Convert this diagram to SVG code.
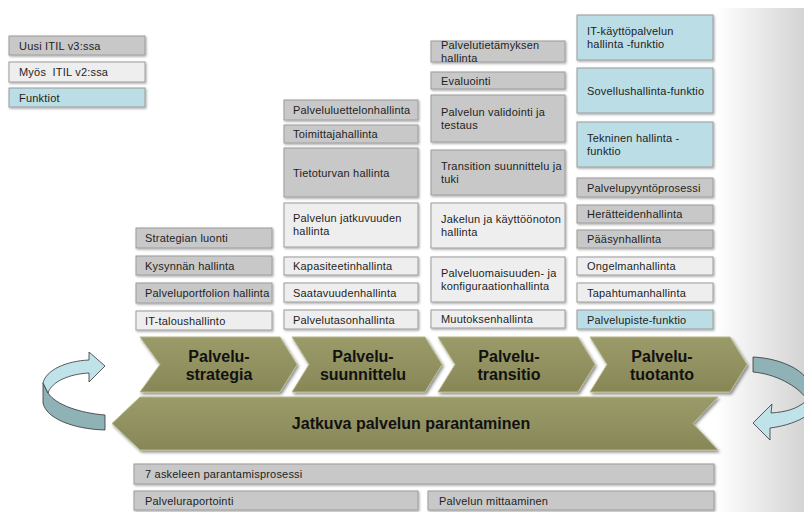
<svg xmlns="http://www.w3.org/2000/svg" width="804" height="512" viewBox="0 0 804 512">
  <defs>
    <linearGradient id="sideFade" x1="0" y1="0" x2="1" y2="0">
      <stop offset="0" stop-color="#ffffff"/>
      <stop offset="1" stop-color="#d4d4d4"/>
    </linearGradient>
    <linearGradient id="olive" x1="0" y1="0" x2="0" y2="1">
      <stop offset="0" stop-color="#9b9a69"/>
      <stop offset="0.5" stop-color="#929161"/>
      <stop offset="1" stop-color="#878656"/>
    </linearGradient>
    <filter id="boxShadow" x="-10%" y="-30%" width="120%" height="160%">
      <feDropShadow dx="1" dy="1.2" stdDeviation="1.2" flood-color="#000" flood-opacity="0.35"/>
    </filter>
    <filter id="chevShadow" x="-10%" y="-20%" width="120%" height="150%">
      <feDropShadow dx="1.5" dy="2" stdDeviation="1.5" flood-color="#000" flood-opacity="0.45"/>
    </filter>
  </defs>
  <style>
    .box { stroke: #9c9c9c; stroke-width: 1; filter: url(#boxShadow); }
    .g { fill: #c8c8c8; }
    .l { fill: #eeeeee; }
    .b { fill: #badde6; }
    .t { font-family: "Liberation Sans", Arial, sans-serif; font-size: 11px; letter-spacing: 0.2px; fill: #1e1e1e; }
    .chev { fill: url(#olive); stroke: #b9b98c; stroke-width: 1; filter: url(#chevShadow); }
    .ct { font-family: "Liberation Sans", Arial, sans-serif; font-size: 16px; font-weight: bold; fill: #111111; text-anchor: middle; }
    .hi { fill: #c0e3ea; stroke: #333333; stroke-width: 0.8; stroke-linejoin: round; }
    .lo { fill: #8fb2b7; stroke: #333333; stroke-width: 0.8; stroke-linejoin: round; }
  </style>

  <rect x="0" y="0" width="804" height="512" fill="#ffffff"/>
  <rect x="716" y="8" width="88" height="504" fill="url(#sideFade)"/>

  <!-- legend -->
  <g id="legend-v3"><rect class="box g" x="9" y="36" width="136" height="19"/><text class="t" x="19" y="49.5">Uusi ITIL v3:ssa</text></g>
  <g id="legend-v2"><rect class="box l" x="9" y="62" width="136" height="20"/><text class="t" x="19" y="76" xml:space="preserve">Myös  ITIL v2:ssa</text></g>
  <g id="legend-func"><rect class="box b" x="9" y="88" width="136" height="19"/><text class="t" x="19" y="101.5">Funktiot</text></g>

  <!-- strategy column -->
  <g id="strategian-luonti"><rect class="box g" x="136" y="228" width="136" height="20"/><text class="t" x="145" y="242">Strategian luonti</text></g>
  <g id="kysynnan-hallinta"><rect class="box g" x="136" y="256" width="136" height="19"/><text class="t" x="145" y="269.5">Kysynnän hallinta</text></g>
  <g id="palveluportfolion-hallinta"><rect class="box g" x="136" y="283" width="136" height="20"/><text class="t" x="145" y="297">Palveluportfolion hallinta</text></g>
  <g id="it-taloushallinto"><rect class="box l" x="136" y="311" width="136" height="19"/><text class="t" x="145" y="324.5">IT-taloushallinto</text></g>

  <!-- design column -->
  <g id="palveluluettelonhallinta"><rect class="box g" x="284" y="100" width="134" height="20"/><text class="t" x="293" y="114">Palveluluettelonhallinta</text></g>
  <g id="toimittajahallinta"><rect class="box g" x="284" y="125" width="134" height="18"/><text class="t" x="293" y="138">Toimittajahallinta</text></g>
  <g id="tietoturvan-hallinta"><rect class="box g" x="284" y="148" width="134" height="49"/><text class="t" x="293" y="176.5">Tietoturvan hallinta</text></g>
  <g id="palvelun-jatkuvuuden-hallinta"><rect class="box l" x="284" y="203" width="134" height="44"/><text class="t" x="293" y="222">Palvelun jatkuvuuden</text><text class="t" x="293" y="235">hallinta</text></g>
  <g id="kapasiteetinhallinta"><rect class="box l" x="284" y="257" width="134" height="18"/><text class="t" x="293" y="270">Kapasiteetinhallinta</text></g>
  <g id="saatavuudenhallinta"><rect class="box l" x="284" y="283" width="134" height="19"/><text class="t" x="293" y="296.5">Saatavuudenhallinta</text></g>
  <g id="palvelutasonhallinta"><rect class="box l" x="284" y="310" width="134" height="19"/><text class="t" x="293" y="323.5">Palvelutasonhallinta</text></g>

  <!-- transition column -->
  <g id="palvelutietamyksen-hallinta"><rect class="box g" x="431" y="41" width="134" height="21"/><text class="t" x="441" y="48.5">Palvelutietämyksen</text><text class="t" x="441" y="61.5">hallinta</text></g>
  <g id="evaluointi"><rect class="box g" x="431" y="72" width="134" height="17"/><text class="t" x="441" y="84.5">Evaluointi</text></g>
  <g id="palvelun-validointi"><rect class="box g" x="431" y="95" width="134" height="47"/><text class="t" x="441" y="115.5">Palvelun validointi ja</text><text class="t" x="441" y="128.5">testaus</text></g>
  <g id="transition-suunnittelu"><rect class="box g" x="431" y="150" width="134" height="45"/><text class="t" x="441" y="169.5">Transition suunnittelu ja</text><text class="t" x="441" y="182.5">tuki</text></g>
  <g id="jakelun-hallinta"><rect class="box l" x="431" y="203" width="134" height="45"/><text class="t" x="441" y="222.5">Jakelun ja käyttöönoton</text><text class="t" x="441" y="235.5">hallinta</text></g>
  <g id="palveluomaisuuden-hallinta"><rect class="box l" x="431" y="257" width="134" height="45"/><text class="t" x="441" y="276.5">Palveluomaisuuden- ja</text><text class="t" x="441" y="289.5">konfiguraationhallinta</text></g>
  <g id="muutoksenhallinta"><rect class="box l" x="431" y="310" width="134" height="18"/><text class="t" x="441" y="323">Muutoksenhallinta</text></g>

  <!-- operation column -->
  <g id="it-kayttopalvelun-hallinta"><rect class="box b" x="577" y="15" width="136" height="45"/><text class="t" x="587" y="34.5">IT-käyttöpalvelun</text><text class="t" x="587" y="47.5">hallinta -funktio</text></g>
  <g id="sovellushallinta"><rect class="box b" x="577" y="68" width="136" height="45"/><text class="t" x="587" y="94.5">Sovellushallinta-funktio</text></g>
  <g id="tekninen-hallinta"><rect class="box b" x="577" y="122" width="136" height="45"/><text class="t" x="587" y="141.5">Tekninen hallinta -</text><text class="t" x="587" y="154.5">funktio</text></g>
  <g id="palvelupyyntoprosessi"><rect class="box g" x="577" y="178" width="136" height="19"/><text class="t" x="587" y="191.5">Palvelupyyntöprosessi</text></g>
  <g id="heratteidenhallinta"><rect class="box g" x="577" y="205" width="136" height="18"/><text class="t" x="587" y="218">Herätteidenhallinta</text></g>
  <g id="paasynhallinta"><rect class="box g" x="577" y="230" width="136" height="18"/><text class="t" x="587" y="243">Pääsynhallinta</text></g>
  <g id="ongelmanhallinta"><rect class="box l" x="577" y="257" width="136" height="18"/><text class="t" x="587" y="270">Ongelmanhallinta</text></g>
  <g id="tapahtumanhallinta"><rect class="box l" x="577" y="283" width="136" height="19"/><text class="t" x="587" y="296.5">Tapahtumanhallinta</text></g>
  <g id="palvelupiste"><rect class="box b" x="577" y="310" width="136" height="19"/><text class="t" x="587" y="323.5">Palvelupiste-funktio</text></g>

  <!-- lifecycle stages -->
  <g id="stage-strategia"><path class="chev" d="M140,337 L280,337 L297,364.5 L280,392 L140,392 L160,364.5 Z"/><text class="ct" x="219" y="362">Palvelu-</text><text class="ct" x="219" y="380">strategia</text></g>
  <g id="stage-suunnittelu"><path class="chev" d="M292,337 L425,337 L442,364.5 L425,392 L292,392 L309,364.5 Z"/><text class="ct" x="363" y="362">Palvelu-</text><text class="ct" x="363" y="380">suunnittelu</text></g>
  <g id="stage-transitio"><path class="chev" d="M438,337 L578,337 L595,364.5 L578,392 L438,392 L455,364.5 Z"/><text class="ct" x="509" y="362">Palvelu-</text><text class="ct" x="509" y="380">transitio</text></g>
  <g id="stage-tuotanto"><path class="chev" d="M590,337 L730,337 L747,364.5 L730,392 L590,392 L607,364.5 Z"/><text class="ct" x="662" y="362">Palvelu-</text><text class="ct" x="662" y="380">tuotanto</text></g>

  <!-- continual improvement -->
  <g id="jatkuva-parantaminen"><path class="chev" d="M140,397 L718,397 L693,423.5 L718,450 L140,450 L112,423.5 Z"/><text class="ct" x="411" y="429">Jatkuva palvelun parantaminen</text></g>

  <g id="cpi-7-askelta"><rect class="box g" x="134" y="464" width="580" height="20"/><text class="t" x="145" y="478">7 askeleen parantamisprosessi</text></g>
  <g id="palveluraportointi"><rect class="box g" x="134" y="491" width="284" height="19"/><text class="t" x="145" y="504.5">Palveluraportointi</text></g>
  <g id="palvelun-mittaaminen"><rect class="box g" x="428" y="491" width="286" height="19"/><text class="t" x="439" y="504.5">Palvelun mittaaminen</text></g>

  <!-- cycle arrows -->
  <g id="connectors">
    <g id="arrow-left">
      <path class="lo" d="M43,383 L48,393 C56,405 80,413 105,415 L105,430 C72,429 46,418 43,403 Z"/>
      <path class="hi" d="M89,352 L105,366 L89,382 L89,373 C70,374 52,381 48,393 L43,383 C46,370 66,361 89,360 Z"/>
    </g>
    <g id="arrow-right">
      <path class="lo" d="M753,357 C775,358 797,366 806,378 L806,398 C797,386 776,374 753,372 Z"/>
      <path class="hi" d="M806,401 C797,409 786,412 771,413 L772,404 L753,423 L770,440 L770,428 C786,426 799,421 806,416 Z"/>
    </g>
  </g>
</svg>
